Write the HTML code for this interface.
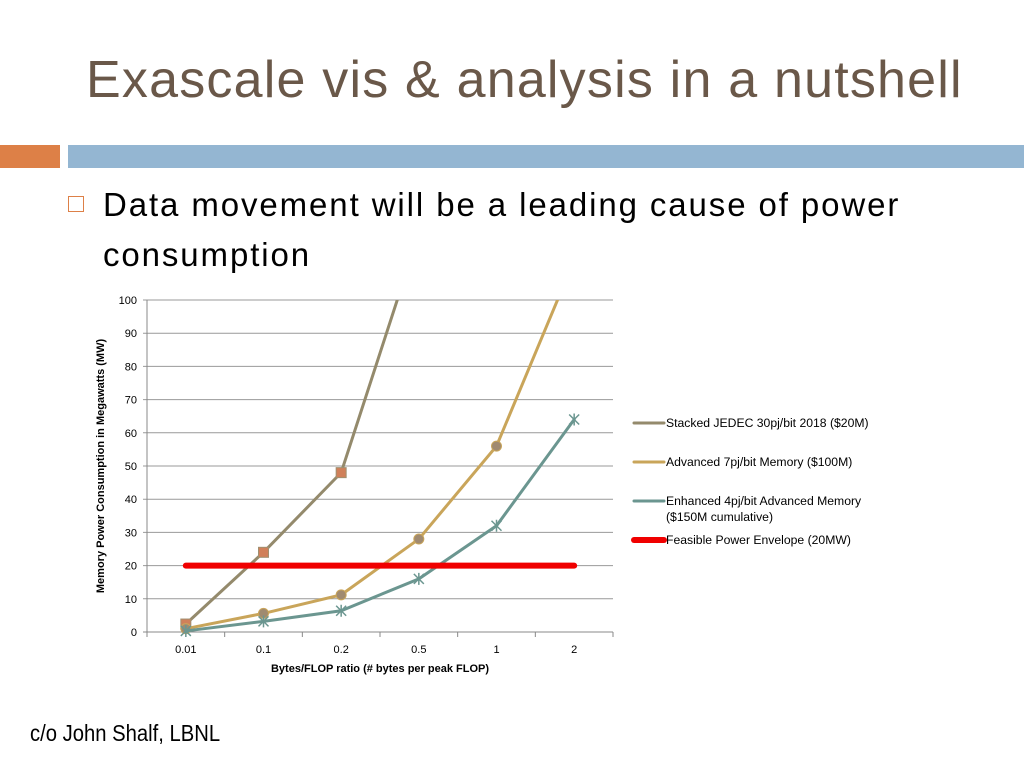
<!DOCTYPE html>
<html><head><meta charset="utf-8"><style>
body{margin:0;width:1024px;height:768px;background:#fff;position:relative;overflow:hidden;font-family:"Liberation Sans",sans-serif}
.title{position:absolute;left:86px;top:50px;font-size:52px;color:#6a5849;letter-spacing:1.2px}
.bar1{position:absolute;left:0;top:145px;width:60px;height:23px;background:#dd8047}
.bar2{position:absolute;left:68px;top:145px;width:956px;height:23px;background:#94b6d2}
.bullet{position:absolute;left:68px;top:196px;width:14px;height:14px;border:1.5px solid #dd8047}
.btext{position:absolute;left:103px;top:180px;font-size:33px;line-height:50px;color:#000;letter-spacing:1.9px}
.credit{position:absolute;left:30px;top:720px;font-size:23px;color:#000;transform:scaleX(0.88);transform-origin:left top}
</style></head><body>
<div class="title">Exascale vis &amp; analysis in a nutshell</div>
<div class="bar1"></div>
<div class="bar2"></div>
<div class="bullet"></div>
<div class="btext">Data movement will be a leading cause of power<br>consumption</div>
<svg id="chart" width="1024" height="768" style="position:absolute;left:0;top:0" font-family="Liberation Sans, sans-serif"></svg>
<div class="credit">c/o John Shalf, LBNL</div>
<script>
const categories=["0.01","0.1","0.2","0.5","1","2"];
const jedec=[2.4,24,48,120,240,480];
const advanced=[1,5.6,11.2,28,56,112];
const enhanced=[0.32,3.2,6.4,16,32,64];
const envelope=[20,20,20,20,20,20];
const yTicks=[0,10,20,30,40,50,60,70,80,90,100];
const NS="http://www.w3.org/2000/svg";
const svg=document.getElementById('chart');
const L=147,R=613,T=300,B=632,ymax=100;
const bw=(R-L)/categories.length;
const X=i=>L+bw*(i+0.5);
const Y=v=>B-(v/ymax)*(B-T);
function el(t,a,p){const e=document.createElementNS(NS,t);for(const k in a)e.setAttribute(k,a[k]);(p||svg).appendChild(e);return e;}
yTicks.forEach(v=>{
 const g=el('line',{x1:L-4,x2:R,y1:Y(v),y2:Y(v),stroke:v===0?'#888':'#999','stroke-width':1});
 
 
 const t=el('text',{x:L-10,y:Y(v)+4,'text-anchor':'end','font-size':11,fill:'#000'});t.textContent=v;
 
 
});
el('line',{x1:L,x2:L,y1:T,y2:B,stroke:'#888'});
for(let i=0;i<=categories.length;i++){el('line',{x1:L+bw*i,x2:L+bw*i,y1:B,y2:B+5,stroke:'#888'});}
categories.forEach((c,i)=>{
 const t=el('text',{x:X(i),y:B+21,'text-anchor':'middle','font-size':11});t.textContent=c;
 
 
});
const xt=el('text',{x:(L+R)/2,y:672,'text-anchor':'middle','font-size':11,'font-weight':'bold'});xt.textContent='Bytes/FLOP ratio (# bytes per peak FLOP)';


const yt=el('text',{x:0,y:0,'text-anchor':'middle','font-size':11,'font-weight':'bold',transform:'translate(104,466) rotate(-90)'});yt.textContent='Memory Power Consumption in Megawatts (MW)';


el('clipPath',{id:'cp'},svg);
el('rect',{x:L,y:T,width:R-L,height:B-T+10},svg.lastChild);
const plot=el('g',{'clip-path':'url(#cp)'});
function series(vals,color,name,marker,w){
 const p=el('polyline',{points:vals.map((v,i)=>X(i)+','+Y(v)).join(' '),fill:'none',stroke:color,'stroke-width':w,'stroke-linecap':'round'},plot);
 
 
 vals.forEach((v,i)=>{
  if(!marker)return;
  const x=X(i),y=Y(v);
  if(marker==='sq'){const m=el('rect',{x:x-5,y:y-5,width:10,height:10,fill:'#d0805a',stroke:'#a09070'},plot);}
  else if(marker==='dot'){const m=el('circle',{cx:x,cy:y,r:5,fill:'#a08a70',stroke:color},plot);}
  else {const m=el('path',{d:`M${x-5} ${y-5}L${x+5} ${y+5}M${x-5} ${y+5}L${x+5} ${y-5}M${x} ${y-6}L${x} ${y+6}`,stroke:color,'stroke-width':1.5},plot);}
 });
}
series(jedec,'#948a6c','jedec','sq',3);
series(advanced,'#c9a55a','advanced','dot',3);
series(enhanced,'#6b9690','enhanced','x',3);
series(envelope,'#f00000','envelope',null,6);
const leg=[['Stacked JEDEC 30pj/bit 2018 ($20M)','#948a6c',427,3],['Advanced 7pj/bit Memory ($100M)','#c9a55a',466,3],['Enhanced 4pj/bit Advanced Memory','#6b9690',505,3],['Feasible Power Envelope (20MW)','#f00000',544,6]];
leg.forEach(l=>{
 const g=el('g',{});
 
 
 el('line',{x1:634,x2:664,y1:l[2]-4,y2:l[2]-4,stroke:l[1],'stroke-width':l[3],'stroke-linecap':'round'},g);
 const t=el('text',{x:666,y:l[2],'font-size':12.2},g);t.textContent=l[0];
});
const t2=el('text',{x:666,y:521,'font-size':12.2});t2.textContent='($150M cumulative)';


</script>
</body></html>
